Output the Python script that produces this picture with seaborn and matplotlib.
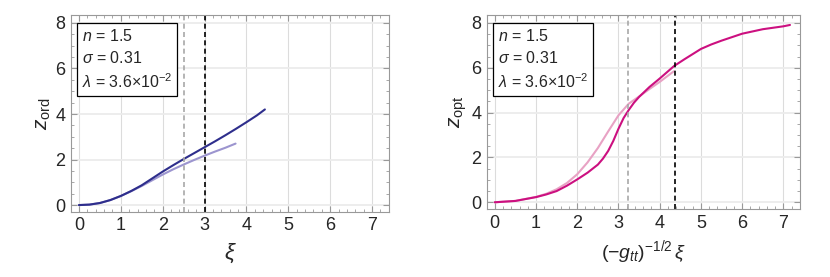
import numpy as np
import pandas as pd
import matplotlib
matplotlib.use("Agg")
import matplotlib.pyplot as plt
import seaborn as sns
from matplotlib.ticker import MultipleLocator

# left panel: ordinary coordinate
xi_ord_full = [0, 0.25, 0.5, 0.75, 1.0, 1.25, 1.5, 1.75, 2.0, 2.25, 2.5, 2.75,
               3.0, 3.25, 3.5, 3.75, 4.0, 4.25, 4.44]
z_ord_full = [0, 0.02, 0.09, 0.22, 0.40, 0.62, 0.87, 1.17, 1.47, 1.75, 2.02, 2.28,
              2.54, 2.80, 3.07, 3.35, 3.64, 3.94, 4.20]
xi_ord_approx = [0, 0.25, 0.5, 0.75, 1.0, 1.25, 1.5, 1.75, 2.0, 2.25, 2.5, 2.75,
                 3.0, 3.25, 3.5, 3.74]
z_ord_approx = [0, 0.02, 0.09, 0.22, 0.40, 0.61, 0.84, 1.09, 1.34, 1.57, 1.78, 1.98,
                2.17, 2.35, 2.52, 2.70]

# right panel: optical coordinate
xi_opt_full = [0, 0.5, 1.0, 1.25, 1.5, 1.75, 2.0, 2.25, 2.5, 2.625, 2.75, 2.875, 3.0,
               3.125, 3.25, 3.375, 3.5, 3.75, 4.0, 4.35, 4.6, 4.8, 5.0, 5.25, 5.5,
               6.0, 6.5, 7.0, 7.16]
z_opt_full = [0, 0.06, 0.23, 0.35, 0.50, 0.74, 1.02, 1.32, 1.68, 1.95, 2.29, 2.74, 3.28,
              3.76, 4.12, 4.44, 4.70, 5.14, 5.52, 6.08, 6.38, 6.61, 6.84, 7.04, 7.21,
              7.52, 7.72, 7.85, 7.91]
xi_opt_approx = [0, 0.5, 1.0, 1.25, 1.5, 1.75, 2.0, 2.25, 2.5, 2.75, 3.0, 3.25, 3.5,
                 3.75, 4.0, 4.34]
z_opt_approx = [0, 0.06, 0.24, 0.38, 0.58, 0.86, 1.25, 1.78, 2.42, 3.16, 3.88, 4.40,
                4.72, 5.05, 5.37, 5.84]

# vertical markers
vline_ord = [2.52, 3.0]
vline_opt = [3.24, 4.37]

params_text = "$n$ = 1.5\n$\\sigma$ = 0.31\n$\\lambda$ = 3.6$\\times$10$^{-2}$"

sns.set_style("ticks")
plt.rcParams['font.family'] = ['Liberation Sans', 'DejaVu Sans']
plt.rcParams['mathtext.fontset'] = 'custom'
plt.rcParams['mathtext.rm'] = 'Liberation Sans'
plt.rcParams['mathtext.it'] = 'Liberation Sans:italic'
plt.rcParams['mathtext.bf'] = 'Liberation Sans:bold'

fig = plt.figure(figsize=(8.3, 2.77), dpi=100)
ax1 = fig.add_axes([0.0855, 0.235, 0.383, 0.711])
ax2 = fig.add_axes([0.5867, 0.2455, 0.377, 0.700])


def style_axes(ax):
    ax.set_xlim(-0.19, 7.4)
    ax.set_ylim(-0.3, 8.35)
    ax.xaxis.set_major_locator(MultipleLocator(1))
    ax.xaxis.set_minor_locator(MultipleLocator(0.2))
    ax.yaxis.set_major_locator(MultipleLocator(2))
    ax.yaxis.set_minor_locator(MultipleLocator(0.5))
    ax.grid(True, axis='x', which='major', color='#dcdcdc', lw=0.8)
    ax.grid(True, axis='y', which='major', color='#ececec', lw=1.3)
    ax.set_axisbelow(True)
    ax.tick_params(which='both', direction='in', top=True, right=True,
                   color='#999999', labelsize=13, pad=4)
    ax.tick_params(which='major', length=4, width=0.8)
    ax.tick_params(which='minor', length=2, width=0.6)
    for s in ax.spines.values():
        s.set_color('#999999')
        s.set_linewidth(0.8)
    ax.text(0.035, 0.935, params_text, transform=ax.transAxes, va='top', ha='left',
            fontsize=11.5, linespacing=1.45,
            bbox=dict(boxstyle='square,pad=0.3', fc='white', ec='black', lw=0.9))


df1a = pd.DataFrame({'x': xi_ord_approx, 'z': z_ord_approx})
df1b = pd.DataFrame({'x': xi_ord_full, 'z': z_ord_full})
sns.lineplot(data=df1a, x='x', y='z', ax=ax1, color='#9c95cf', lw=1.5, sort=False)
sns.lineplot(data=df1b, x='x', y='z', ax=ax1, color='#2e2e8c', lw=1.5, sort=False)
ax1.axvline(vline_ord[0], color='#a8a8a8', ls=(0, (3, 2)), lw=1.2)
ax1.axvline(vline_ord[1], color='black', ls=(0, (3, 2)), lw=1.2)
style_axes(ax1)
ax1.set_xlabel(r"$\xi$", fontsize=16, labelpad=5)
ax1.set_ylabel(r"$z_{\rm ord}$", fontsize=15, labelpad=2)

df2a = pd.DataFrame({'x': xi_opt_approx, 'z': z_opt_approx})
df2b = pd.DataFrame({'x': xi_opt_full, 'z': z_opt_full})
sns.lineplot(data=df2a, x='x', y='z', ax=ax2, color='#e8a2c4', lw=1.5, sort=False)
sns.lineplot(data=df2b, x='x', y='z', ax=ax2, color='#cc1080', lw=1.5, sort=False)
ax2.axvline(vline_opt[0], color='#a8a8a8', ls=(0, (3, 2)), lw=1.2)
ax2.axvline(vline_opt[1], color='black', ls=(0, (3, 2)), lw=1.2)
style_axes(ax2)
ax2.set_xlabel(r"$(-g_{tt})^{-1/2}\,\xi$", fontsize=14, labelpad=5)
ax2.set_ylabel(r"$z_{\rm opt}$", fontsize=15, labelpad=2)

fig.savefig("out.png", dpi=100)
